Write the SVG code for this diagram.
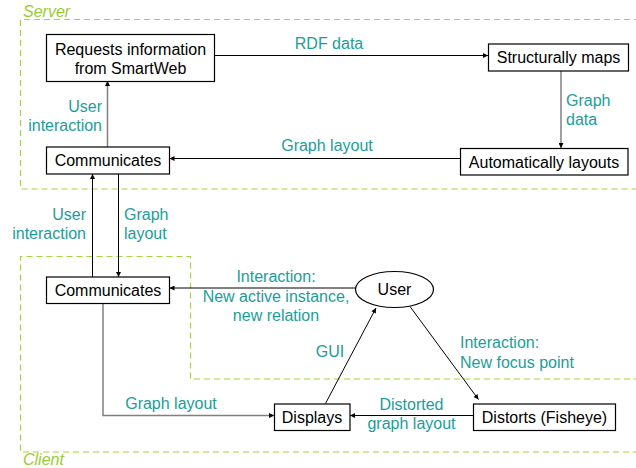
<svg xmlns="http://www.w3.org/2000/svg" width="636" height="468" viewBox="0 0 636 468">
<style>
.box{fill:#fff;stroke:#000;stroke-width:1.2}
.t{font-family:"Liberation Sans",Arial,sans-serif;font-size:16px;fill:#000}
.l{font-family:"Liberation Sans",Arial,sans-serif;font-size:16px;fill:#1a9e9a}
.g{font-family:"Liberation Sans",Arial,sans-serif;font-size:16px;font-style:italic;fill:#99cc33}
.area{fill:none;stroke:#a6d43a;stroke-width:1.2;stroke-dasharray:6,4}
.c{fill:none;stroke:#000;stroke-width:1;marker-end:url(#a)}
.cg{fill:none;stroke:#808080;stroke-width:1.5;marker-end:url(#a)}
</style>
<defs>
<marker id="a" viewBox="0 0 10 10" refX="10" refY="5" markerWidth="6" markerHeight="5" markerUnits="userSpaceOnUse" orient="auto">
<path d="M0,0 L10,5 L0,10 z" fill="#000"/>
</marker>
</defs>
<rect width="636" height="468" fill="#fff"/>
<g id="server">
<path class="area" d="M640,19.5 H20.5 V189 H640"/>
<text class="g" x="23" y="17">Server</text>
</g>
<g id="client">
<path class="area" d="M640,379 H190.5 V256.5 H20.5 V452 H640"/>
<text class="g" x="23" y="465">Client</text>
</g>
<g id="connectors">
<line class="c" x1="214" y1="55.5" x2="488" y2="55.5"/>
<line class="cg" x1="561" y1="71" x2="561" y2="148"/>
<line class="c" x1="460" y1="158.5" x2="169.5" y2="158.5"/>
<line class="cg" x1="107.5" y1="147" x2="107.5" y2="81"/>
<line class="c" x1="92.5" y1="277" x2="92.5" y2="174"/>
<line class="c" x1="118.5" y1="174" x2="118.5" y2="277"/>
<line class="c" x1="355.5" y1="288" x2="169.5" y2="288"/>
<path class="cg" d="M103,304 V415.5 H274"/>
<line class="c" x1="410" y1="306.5" x2="478.5" y2="399.5"/>
<line class="c" x1="325.5" y1="403.5" x2="376" y2="308"/>
<line class="c" x1="473" y1="415.5" x2="350" y2="415.5"/>
<text class="l" x="329" y="49" text-anchor="middle">RDF data</text>
<text class="l" x="102" y="111.5" text-anchor="end">User</text>
<text class="l" x="102" y="131" text-anchor="end">interaction</text>
<text class="l" x="566" y="106">Graph</text>
<text class="l" x="566" y="125">data</text>
<text class="l" x="327" y="151" text-anchor="middle">Graph layout</text>
<text class="l" x="86" y="219.5" text-anchor="end">User</text>
<text class="l" x="86" y="239" text-anchor="end">interaction</text>
<text class="l" x="124" y="219.5">Graph</text>
<text class="l" x="124" y="239">layout</text>
<text class="l" x="276" y="282" text-anchor="middle">Interaction:</text>
<text class="l" x="276" y="301.5" text-anchor="middle">New active instance,</text>
<text class="l" x="276" y="321" text-anchor="middle">new relation</text>
<text class="l" x="330" y="357" text-anchor="middle">GUI</text>
<text class="l" x="460" y="348">Interaction:</text>
<text class="l" x="460" y="367.5">New focus point</text>
<text class="l" x="171" y="408.5" text-anchor="middle">Graph layout</text>
<text class="l" x="411.5" y="410" text-anchor="middle">Distorted</text>
<text class="l" x="411.5" y="429" text-anchor="middle">graph layout</text>
</g>
<g id="n-requests">
<rect class="box" x="46.5" y="34.5" width="168" height="47"/>
<text class="t" x="130.5" y="54.5" text-anchor="middle">Requests information</text>
<text class="t" x="130.5" y="74" text-anchor="middle">from SmartWeb</text>
</g>
<g id="n-structurally">
<rect class="box" x="488.5" y="44" width="140" height="27"/>
<text class="t" x="558.5" y="63" text-anchor="middle">Structurally maps</text>
</g>
<g id="n-automatically">
<rect class="box" x="460.5" y="148.5" width="167.5" height="26.5"/>
<text class="t" x="544" y="167.5" text-anchor="middle">Automatically layouts</text>
</g>
<g id="n-comm-server">
<rect class="box" x="46.5" y="147" width="123" height="27"/>
<text class="t" x="108" y="166" text-anchor="middle">Communicates</text>
</g>
<g id="n-comm-client">
<rect class="box" x="46.5" y="277" width="123" height="26.5"/>
<text class="t" x="108" y="296" text-anchor="middle">Communicates</text>
</g>
<g id="n-user">
<ellipse class="box" cx="394.5" cy="289.5" rx="39" ry="18"/>
<text class="t" x="394.5" y="295" text-anchor="middle">User</text>
</g>
<g id="n-displays">
<rect class="box" x="274.5" y="404" width="75.5" height="26.5"/>
<text class="t" x="312" y="423" text-anchor="middle">Displays</text>
</g>
<g id="n-distorts">
<rect class="box" x="473.5" y="404" width="142" height="26.5"/>
<text class="t" x="544.5" y="423" text-anchor="middle">Distorts (Fisheye)</text>
</g>
</svg>
